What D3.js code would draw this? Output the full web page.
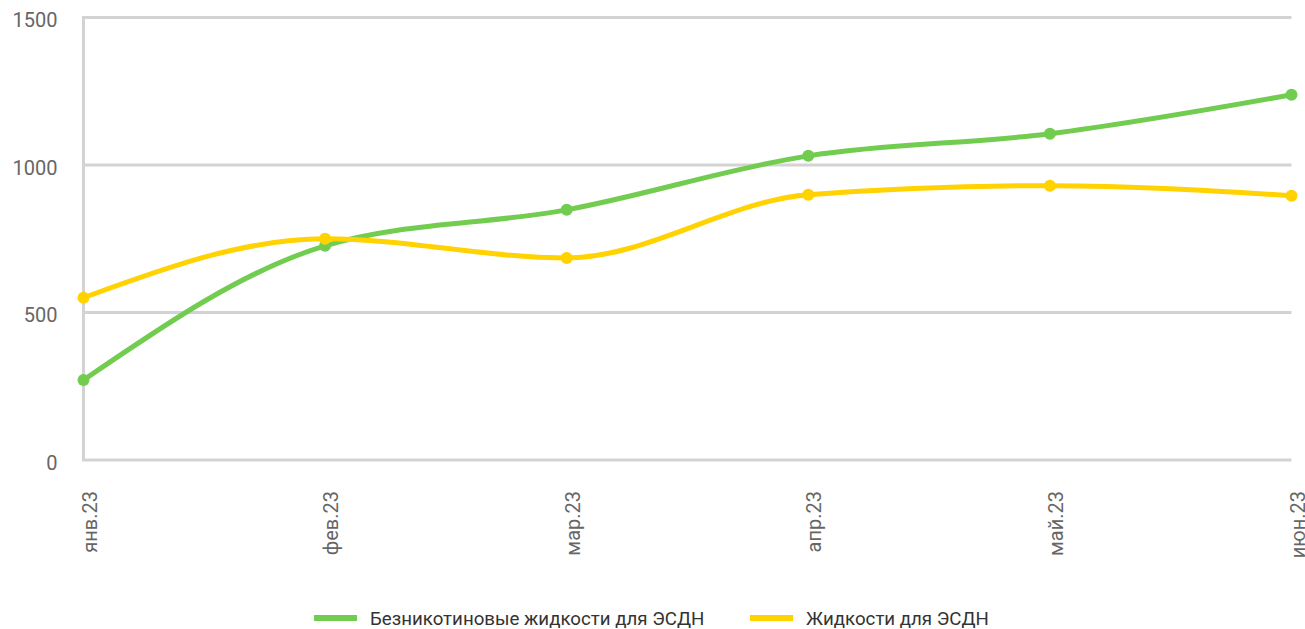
<!DOCTYPE html>
<html>
<head>
<meta charset="utf-8">
<script src="https://cdn.jsdelivr.net/npm/d3@7"></script>
<style>
    body { margin: 0; background: #fff; }
    text { font-family: Roboto, "Noto Sans", sans-serif; }
</style>
</head>
<body>
<div id="chart"></div>
<script>
// months on the x axis
let months = ["янв.23", "фев.23", "мар.23", "апр.23", "май.23", "июн.23"];

// series values
let nicotineFree = [271, 726, 848, 1031, 1106, 1238];
let liquids = [550, 750, 685, 899, 930, 896];

let seriesNames = ["Безникотиновые жидкости для ЭСДН", "Жидкости для ЭСДН"];
let yTicks = [0, 500, 1000, 1500];

class LineChart {
    constructor() {
        let vis = this;

        vis.width = 1305;
        vis.height = 629;
        vis.margin = {left: 83.5, right: 13.5, top: 17.5, bottom: 169};
        vis.colors = ["#72cc50", "#ffd200"];

        vis.svg = d3.select("#chart")
            .append("svg")
            .attr("width", vis.width)
            .attr("height", vis.height);

        vis.x = d3.scalePoint()
            .domain(months)
            .range([vis.margin.left, vis.width - vis.margin.right]);

        vis.y = d3.scaleLinear()
            .domain([0, 1500])
            .range([vis.height - vis.margin.bottom, vis.margin.top]);

        vis.drawAxes();
        vis.drawLines();
        vis.drawLegend();
    }

    drawAxes() {
        let vis = this;

        // horizontal grid lines
        vis.svg.append("g")
            .selectAll("line")
            .data(yTicks)
            .join("line")
            .attr("x1", vis.margin.left - 1.5)
            .attr("x2", vis.width - vis.margin.right)
            .attr("y1", d => vis.y(d))
            .attr("y2", d => vis.y(d))
            .attr("stroke", "#d3d3d3")
            .attr("stroke-width", 3);

        // left axis line
        vis.svg.append("line")
            .attr("x1", vis.margin.left)
            .attr("x2", vis.margin.left)
            .attr("y1", vis.y(1500) - 1.5)
            .attr("y2", vis.y(0))
            .attr("stroke", "#d3d3d3")
            .attr("stroke-width", 3);

        let yAxis = d3.axisLeft(vis.y)
            .tickValues(yTicks)
            .tickFormat(d3.format("d"))
            .tickSize(0)
            .tickPadding(26);

        vis.svg.append("g")
            .attr("class", "y-axis")
            .attr("transform", "translate(" + vis.margin.left + ",0)")
            .call(yAxis)
            .call(g => g.select(".domain").remove())
            .selectAll("text")
            .attr("dy", "0.45em")
            .style("font-size", "20px")
            .style("font-family", "Roboto")
            .attr("fill", "#666");

        let xAxis = d3.axisBottom(vis.x)
            .tickSize(0);

        vis.svg.append("g")
            .attr("class", "x-axis")
            .attr("transform", "translate(0," + vis.y(0) + ")")
            .call(xAxis)
            .call(g => g.select(".domain").remove())
            .selectAll("text")
            .attr("text-anchor", "end")
            .attr("x", -31)
            .attr("y", 0)
            .attr("dy", "0.35em")
            .attr("dx", 0)
            .attr("transform", "translate(5.5,0) rotate(-90)")
            .style("font-size", "20px")
            .style("font-family", "Roboto")
            .attr("fill", "#666");
    }

    drawLines() {
        let vis = this;
        let allSeries = [nicotineFree, liquids];

        let line = d3.line()
            .x((d, i) => vis.x(months[i]))
            .y(d => vis.y(d))
            .curve(d3.curveMonotoneX);

        // yellow series sits on top of the green one
        [0, 1].forEach(function (s) {
            vis.svg.append("path")
                .datum(allSeries[s])
                .attr("fill", "none")
                .attr("stroke", vis.colors[s])
                .attr("stroke-width", 5)
                .attr("stroke-linecap", "round")
                .attr("d", line);

            vis.svg.append("g")
                .selectAll("circle")
                .data(allSeries[s])
                .join("circle")
                .attr("cx", (d, i) => vis.x(months[i]))
                .attr("cy", d => vis.y(d))
                .attr("r", 6)
                .attr("fill", vis.colors[s]);
        });
    }

    drawLegend() {
        let vis = this;
        let legendX = [314, 750];
        let legendY = 618;

        let items = vis.svg.append("g")
            .selectAll("g")
            .data(seriesNames)
            .join("g")
            .attr("transform", (d, i) => "translate(" + legendX[i] + "," + legendY + ")");

        items.append("line")
            .attr("x1", 0)
            .attr("x2", 43)
            .attr("stroke", (d, i) => vis.colors[i])
            .attr("stroke-width", 6);

        items.append("text")
            .attr("x", 56)
            .attr("dy", "0.35em")
            .text(d => d)
            .style("font-size", "18.7px")
            .attr("fill", "#333");
    }
}

new LineChart();
</script>
</body>
</html>
